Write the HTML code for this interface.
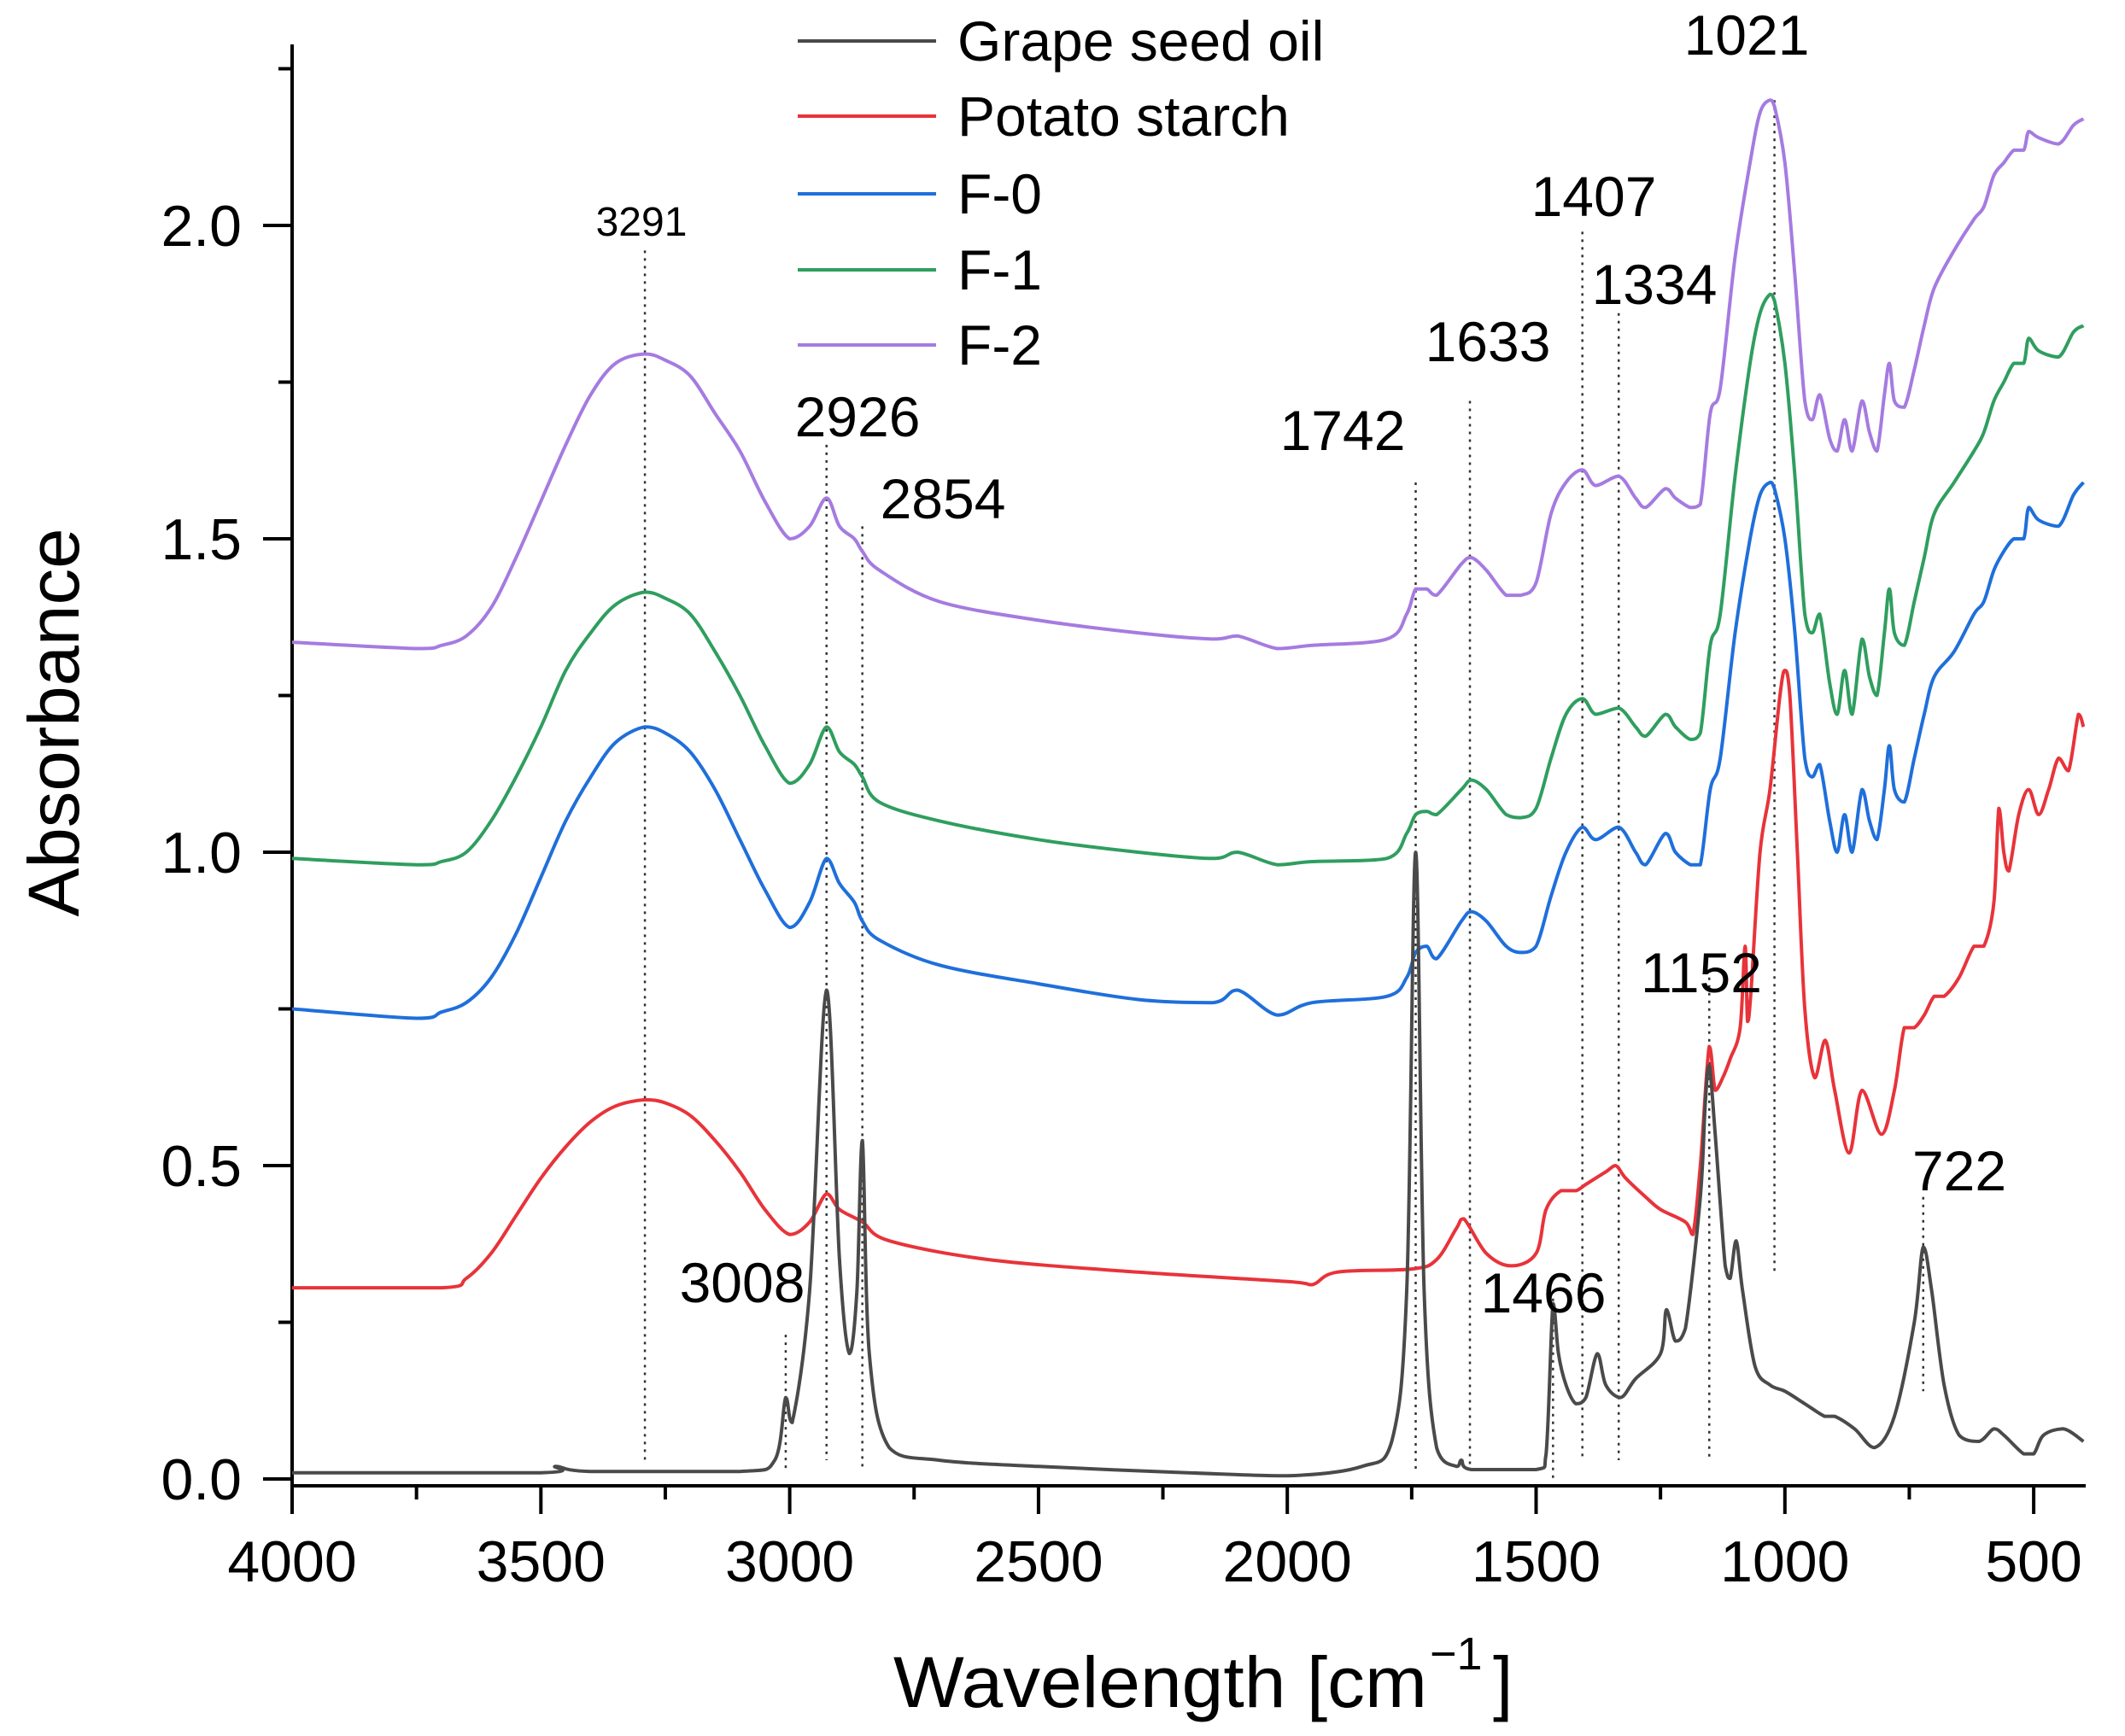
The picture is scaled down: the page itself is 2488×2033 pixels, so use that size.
<!DOCTYPE html>
<html><head><meta charset="utf-8"><style>
html,body{margin:0;padding:0;background:#fff;}
svg{display:block;font-family:"Liberation Sans",Arial,sans-serif;}
</style></head><body>
<svg id="chart" width="2488" height="2033" viewBox="0 0 2488 2033" xmlns="http://www.w3.org/2000/svg">
<g id="axes"></g>
<g id="guides"></g>
<g id="series"></g>
<g id="labels"></g>
<g id="legend"></g>
</svg>
<script>
const xTicks = [4000, 3500, 3000, 2500, 2000, 1500, 1000, 500];
const yTicks = [0.0, 0.5, 1.0, 1.5, 2.0];
const yTickLabels = ["0.0", "0.5", "1.0", "1.5", "2.0"];
const seriesNames = ["Grape seed oil", "Potato starch", "F-0", "F-1", "F-2"];
const grapeWn = [4000,3500,3470,3400,3100,3030,3008,2995,2960,2926,2900,2880,2865,2854,2840,2800,2700,2500,2200,2000,1850,1790,1760,1742,1725,1700,1660,1650,1630,1500,1480,1466,1455,1440,1420,1400,1377,1360,1330,1300,1250,1238,1220,1200,1170,1160,1152,1140,1120,1110,1098,1085,1060,1030,1000,960,920,900,860,820,780,740,722,705,680,650,610,580,560,520,500,480,440,400];
const grapeAbs = [0.01,0.01,0.02,0.012,0.012,0.03,0.13,0.09,0.3,0.78,0.35,0.2,0.3,0.54,0.2,0.05,0.03,0.02,0.01,0.005,0.02,0.06,0.3,1.0,0.3,0.05,0.02,0.03,0.015,0.015,0.04,0.28,0.2,0.15,0.12,0.13,0.2,0.15,0.13,0.16,0.2,0.27,0.22,0.24,0.45,0.6,0.66,0.55,0.34,0.32,0.38,0.3,0.18,0.15,0.14,0.12,0.1,0.1,0.08,0.05,0.1,0.25,0.37,0.3,0.15,0.07,0.06,0.08,0.07,0.04,0.04,0.07,0.08,0.06];
const starchWn = [4000,3700,3650,3600,3550,3500,3450,3400,3350,3291,3250,3200,3150,3100,3050,3000,2960,2926,2900,2854,2800,2600,2300,2000,1950,1900,1750,1700,1660,1645,1600,1550,1500,1480,1450,1420,1400,1360,1340,1320,1280,1250,1200,1185,1170,1152,1140,1125,1110,1090,1080,1075,1068,1050,1030,1010,1000,990,975,960,940,919,900,871,845,806,780,760,740,720,700,680,650,620,600,580,570,560,550,530,510,490,470,450,430,410,400];
const starchAbs = [0.305,0.305,0.32,0.36,0.42,0.48,0.53,0.57,0.595,0.605,0.6,0.58,0.54,0.49,0.43,0.39,0.41,0.455,0.43,0.41,0.38,0.35,0.33,0.315,0.31,0.33,0.335,0.35,0.4,0.415,0.36,0.34,0.36,0.43,0.46,0.46,0.47,0.49,0.5,0.48,0.45,0.43,0.41,0.39,0.5,0.69,0.62,0.64,0.67,0.72,0.85,0.73,0.78,1.0,1.1,1.25,1.29,1.25,1.0,0.75,0.64,0.7,0.62,0.52,0.62,0.55,0.62,0.72,0.72,0.74,0.77,0.77,0.8,0.85,0.85,0.92,1.07,1.0,0.97,1.06,1.1,1.06,1.1,1.15,1.13,1.22,1.2];
const filmWn = [4000,3750,3700,3650,3600,3550,3500,3450,3400,3350,3291,3250,3200,3150,3100,3050,3000,2960,2926,2900,2870,2854,2820,2700,2500,2300,2150,2100,2020,1950,1800,1760,1742,1720,1700,1650,1630,1600,1560,1530,1500,1470,1440,1407,1380,1334,1300,1280,1240,1220,1190,1170,1150,1130,1100,1070,1050,1030,1021,1000,980,960,945,930,910,895,880,865,845,830,815,800,790,780,760,740,720,700,660,620,600,580,560,540,520,510,490,450,420,400];
const f0Abs = [0.75,0.735,0.745,0.76,0.8,0.87,0.96,1.05,1.12,1.175,1.2,1.19,1.16,1.1,1.02,0.94,0.88,0.92,0.99,0.95,0.92,0.89,0.86,0.82,0.79,0.765,0.76,0.78,0.74,0.76,0.77,0.8,0.84,0.85,0.83,0.89,0.905,0.89,0.85,0.84,0.85,0.93,1.0,1.04,1.02,1.04,1.0,0.98,1.03,1.0,0.98,0.98,1.1,1.15,1.35,1.5,1.57,1.59,1.58,1.5,1.35,1.15,1.12,1.14,1.05,1.0,1.06,1.0,1.1,1.05,1.02,1.1,1.17,1.1,1.08,1.15,1.22,1.28,1.32,1.38,1.4,1.45,1.48,1.5,1.5,1.55,1.53,1.52,1.57,1.59];
const f1Abs = [0.99,0.98,0.985,1.0,1.05,1.12,1.2,1.29,1.35,1.395,1.415,1.405,1.38,1.32,1.25,1.17,1.11,1.14,1.2,1.16,1.14,1.12,1.08,1.05,1.02,1.0,0.99,1.0,0.98,0.985,0.99,1.03,1.06,1.065,1.06,1.1,1.115,1.1,1.06,1.055,1.07,1.15,1.22,1.245,1.22,1.23,1.2,1.185,1.22,1.2,1.18,1.19,1.33,1.38,1.6,1.78,1.86,1.89,1.88,1.78,1.6,1.38,1.35,1.38,1.27,1.22,1.29,1.22,1.34,1.28,1.25,1.35,1.42,1.35,1.33,1.4,1.47,1.54,1.59,1.64,1.67,1.72,1.75,1.78,1.78,1.82,1.8,1.79,1.83,1.84];
const f2Abs = [1.335,1.325,1.33,1.345,1.39,1.47,1.56,1.65,1.73,1.78,1.795,1.785,1.76,1.7,1.64,1.56,1.5,1.52,1.565,1.52,1.5,1.48,1.45,1.4,1.37,1.35,1.34,1.345,1.325,1.33,1.34,1.38,1.42,1.42,1.41,1.46,1.47,1.45,1.41,1.41,1.43,1.54,1.59,1.61,1.585,1.6,1.565,1.55,1.58,1.565,1.55,1.555,1.7,1.74,1.95,2.1,2.18,2.2,2.19,2.1,1.92,1.72,1.69,1.73,1.66,1.64,1.69,1.64,1.72,1.67,1.64,1.73,1.78,1.72,1.71,1.77,1.84,1.9,1.96,2.01,2.03,2.08,2.1,2.12,2.12,2.15,2.14,2.13,2.16,2.17];
const peakWn = [3291,3008,2926,2854,1742,1633,1466,1407,1334,1152,1021,722];
const peakTop = [1.96,0.23,1.65,1.52,1.59,1.72,0.3,1.99,1.86,0.8,2.2,0.45];
const peakBottom = [0.03,0.01,0.03,0.02,0.01,0.02,0.0,0.03,0.03,0.03,0.33,0.14];

const NS = "http://www.w3.org/2000/svg";
const X0 = 342, XR = 2442, Y0 = 1732, YTOP = 52;
function xs(w){ return X0 + (4000 - w) * 0.5826; }
function ys(a){ return Y0 - a * 734; }
function mk(tag, attrs, parent){ const e = document.createElementNS(NS, tag); for (const k in attrs) e.setAttribute(k, attrs[k]); parent.appendChild(e); return e; }
function clamp(v, a, b){ return Math.max(Math.min(a, b), Math.min(Math.max(a, b), v)); }
function smoothPath(P){
  let d = 'M' + P[0][0].toFixed(1) + ',' + P[0][1].toFixed(1);
  for (let i = 0; i < P.length - 1; i++) {
    const p0 = P[Math.max(0, i - 1)], p1 = P[i], p2 = P[i + 1], p3 = P[Math.min(P.length - 1, i + 2)];
    const c1x = p1[0] + (p2[0] - p0[0]) / 6, c1y = clamp(p1[1] + (p2[1] - p0[1]) / 6, p1[1], p2[1]);
    const c2x = p2[0] - (p3[0] - p1[0]) / 6, c2y = clamp(p2[1] - (p3[1] - p1[1]) / 6, p1[1], p2[1]);
    d += 'C' + c1x.toFixed(1) + ',' + c1y.toFixed(1) + ' ' + c2x.toFixed(1) + ',' + c2y.toFixed(1) + ' ' + p2[0].toFixed(1) + ',' + p2[1].toFixed(1);
  }
  return d;
}

const axes = document.getElementById('axes');
let el = mk('line', {x1:X0, y1:YTOP, x2:X0, y2:1772, stroke:'#000', 'stroke-width':4}, axes);


el = mk('line', {x1:X0, y1:1740, x2:XR, y2:1740, stroke:'#000', 'stroke-width':4}, axes);


for (let i = 0; i < xTicks.length; i++) {
  const x = xs(xTicks[i]);
  el = mk('line', {x1:x, y1:1740, x2:x, y2:1773, stroke:'#000', 'stroke-width':4}, axes);
  
  
  el = mk('text', {x:x, y:1852, 'font-size':68, 'text-anchor':'middle', fill:'#000'}, axes);
  el.textContent = xTicks[i];
  
  
  const mw = xTicks[i] - 250;
  if (xs(mw) < XR) {
    el = mk('line', {x1:xs(mw), y1:1740, x2:xs(mw), y2:1756, stroke:'#000', 'stroke-width':4}, axes);
    
    
  }
}
for (let i = 0; i < yTicks.length; i++) {
  const y = ys(yTicks[i]);
  el = mk('line', {x1:308, y1:y, x2:X0, y2:y, stroke:'#000', 'stroke-width':4}, axes);
  
  
  el = mk('text', {x:283, y:y + 24, 'font-size':68, 'text-anchor':'end', fill:'#000'}, axes);
  el.textContent = yTickLabels[i];
  
  
  const my = ys(yTicks[i] + 0.25);
  if (my > YTOP) {
    el = mk('line', {x1:326, y1:my, x2:X0, y2:my, stroke:'#000', 'stroke-width':4}, axes);
    
    
  }
}
el = mk('text', {x:0, y:0, 'font-size':84, 'text-anchor':'middle', fill:'#000', transform:'translate(92,846) rotate(-90)', textLength:455, lengthAdjust:'spacingAndGlyphs'}, axes);
el.textContent = 'Absorbance';


el = mk('text', {x:1046, y:1999, 'font-size':84, fill:'#000', textLength:625, lengthAdjust:'spacingAndGlyphs'}, axes);
el.textContent = 'Wavelength [cm';


el = mk('text', {x:1674, y:1955, 'font-size':54, fill:'#000'}, axes);
el.textContent = '\u22121';


el = mk('text', {x:1748, y:1999, 'font-size':84, fill:'#000'}, axes);
el.textContent = ']';



const guides = document.getElementById('guides');
for (let i = 0; i < peakWn.length; i++) {
  el = mk('line', {x1:xs(peakWn[i]), y1:ys(peakTop[i]), x2:xs(peakWn[i]), y2:ys(peakBottom[i]), stroke:'#333', 'stroke-width':2.5, 'stroke-dasharray':'3,6'}, guides);
  
  
}

const colors = ['#4a4a4a', '#e8333a', '#1f6fdb', '#2f9e5f', '#a57be0'];
const seriesX = [grapeWn, starchWn, filmWn, filmWn, filmWn];
const seriesY = [grapeAbs, starchAbs, f0Abs, f1Abs, f2Abs];
const slugs = ['grape-seed-oil', 'potato-starch', 'f-0', 'f-1', 'f-2'];
const sg = document.getElementById('series');
const order = [4, 3, 2, 1, 0];
for (const s of order) {
  const P = seriesX[s].map((w, j) => [xs(w), ys(seriesY[s][j])]);
  el = mk('path', {d:smoothPath(P), fill:'none', stroke:colors[s], 'stroke-width':4, 'stroke-linejoin':'round'}, sg);
  
  
}

const labelText = ['3291','2926','2854','1742','1633','1407','1334','1021','1152','3008','1466','722'];
const labelX = [751,1004,1104,1572,1742,1866,1937,2045,1992,869,1807,2294];
const labelY = [276,511,607,527,423,253,356,64,1162,1525,1537,1394];
const lg = document.getElementById('labels');
for (let i = 0; i < labelText.length; i++) {
  el = mk('text', {x:labelX[i], y:labelY[i], 'font-size': i === 0 ? 48 : 66, 'text-anchor':'middle', fill:'#000'}, lg);
  el.textContent = labelText[i];
  
  
}

const leg = document.getElementById('legend');
const legY = [48, 136, 227, 316, 404];
for (let i = 0; i < seriesNames.length; i++) {
  el = mk('line', {x1:934, y1:legY[i], x2:1096, y2:legY[i], stroke:colors[i], 'stroke-width':4}, leg);
  
  
  el = mk('text', {x:1121, y:legY[i] + 23, 'font-size':66, fill:'#000'}, leg);
  el.textContent = seriesNames[i];
  
  
}
</script>
</body></html>
